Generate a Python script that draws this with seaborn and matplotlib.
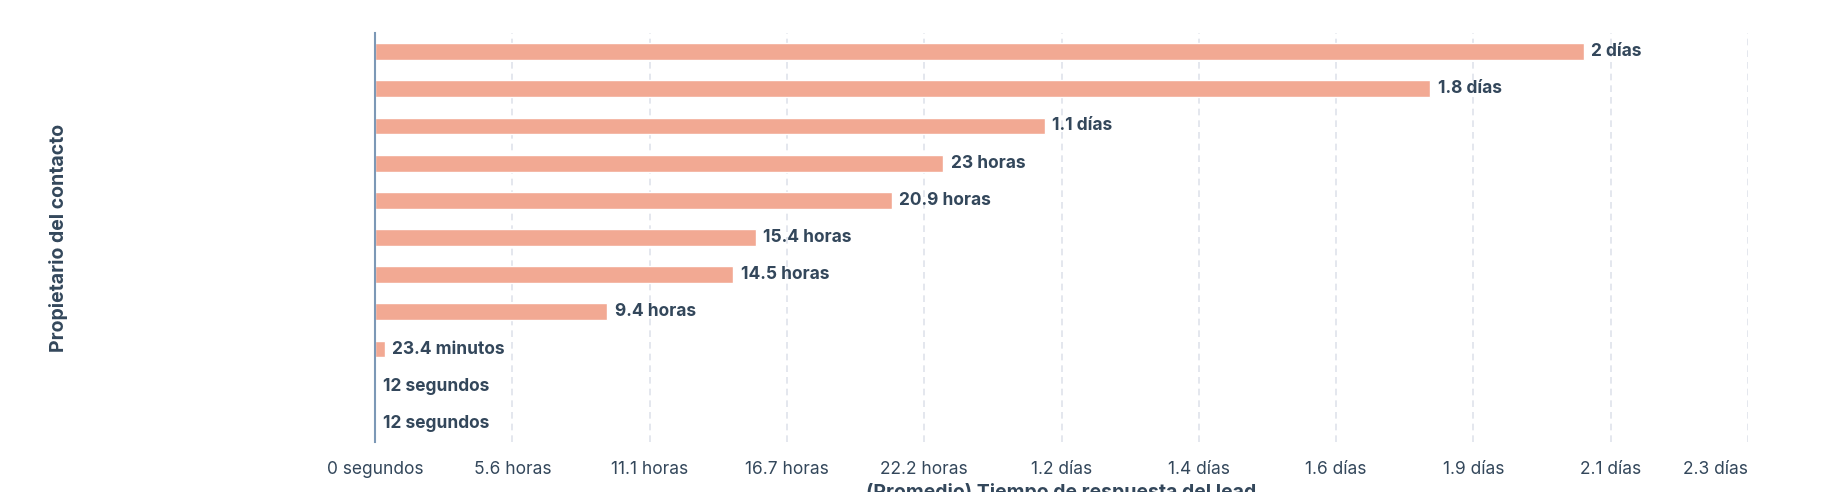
import matplotlib
matplotlib.use("Agg")
import matplotlib.pyplot as plt
import seaborn as sns
import pandas as pd

# ---- data ----
categories = [f"Propietario {i}" for i in range(1, 12)]
values_hours = [48.9, 42.7, 27.1, 23.0, 20.9, 15.4, 14.5, 9.4, 0.39, 0.0033, 0.0033]
value_labels = ["2 días", "1.8 días", "1.1 días", "23 horas", "20.9 horas", "15.4 horas",
                "14.5 horas", "9.4 horas", "23.4 minutos", "12 segundos", "12 segundos"]
tick_hours = [0, 5.5556, 11.1111, 16.6667, 22.2222, 27.7778, 33.3333, 38.8889, 44.4444, 50.0, 55.5556]
tick_labels = ["0 segundos", "5.6 horas", "11.1 horas", "16.7 horas", "22.2 horas", "1.2 días",
               "1.4 días", "1.6 días", "1.9 días", "2.1 días", "2.3 días"]
x_label = "(Promedio) Tiempo de respuesta del lead"
y_label = "Propietario del contacto"

df = pd.DataFrame({"cat": categories, "val": values_hours})

sns.set_theme(style="white")
plt.rcParams["font.family"] = ["Inter", "DejaVu Sans"]

TEXT = "#33475b"
BAR = "#f2a993"

fig = plt.figure(figsize=(18.38, 4.92), dpi=100)
ax = fig.add_axes([375 / 1838, 50 / 492, 1373 / 1838, 409 / 492])

sns.barplot(data=df, x="val", y="cat", orient="h", color=BAR, width=0.45,
            saturation=1, ax=ax, zorder=3)

ax.set_xlim(0, tick_hours[-1])
ax.set_ylim(len(categories) - 0.5, -0.5)
ax.set_xticks(tick_hours)
ax.set_xticklabels(tick_labels, fontsize=12.5, color=TEXT)
lbls = ax.get_xticklabels()
lbls[-1].set_horizontalalignment("right")
ax.tick_params(axis="x", length=0, pad=14)
ax.set_yticks(range(len(categories)))
ax.set_yticklabels([""] * len(categories))
ax.tick_params(axis="y", length=0)

ax.xaxis.grid(True, linestyle=(0, (4, 3)), color="#dfe3eb", linewidth=1.2, zorder=0)
ax.yaxis.grid(False)
for s in ["top", "right", "bottom"]:
    ax.spines[s].set_visible(False)
ax.spines["left"].set_color("#7c98b6")
ax.spines["left"].set_linewidth(1.5)
ax.spines["left"].set_zorder(5)

for i, (v, lab) in enumerate(zip(values_hours, value_labels)):
    ax.annotate(lab, xy=(v, i), xytext=(5.5, 0), textcoords="offset points",
                va="center", ha="left", fontsize=12.5, fontweight="bold", color=TEXT)

ax.set_xlabel("")
ax.set_ylabel(y_label, fontsize=14, fontweight="bold", color=TEXT, labelpad=0)
ax.yaxis.set_label_coords(-(375 - 68) / 1373, 0.5)

fig.text((375 + 1373 / 2) / 1838, 1 - 483 / 492, x_label, ha="center", va="top",
         fontsize=14, fontweight="bold", color=TEXT)

fig.savefig("out.png", dpi=100, facecolor="white")
